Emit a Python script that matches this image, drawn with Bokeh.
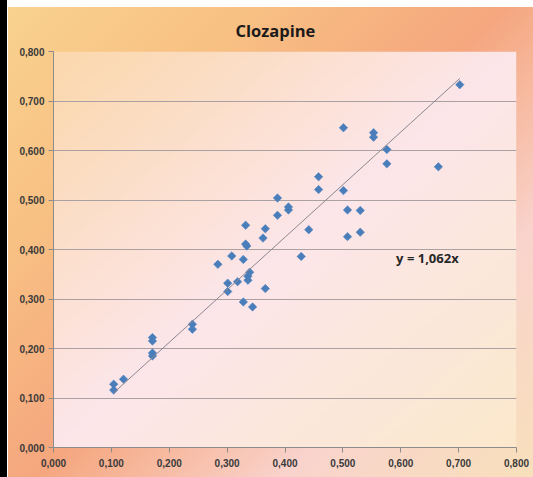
import numpy as np
from bokeh.plotting import figure
from bokeh.models import FixedTicker, Label, Range1d
from bokeh.embed import file_html
from bokeh.resources import INLINE

title_text = "Clozapine"
equation_text = "y = 1,062x"
slope = 1.062

x_vals = [0.104, 0.104, 0.121, 0.171, 0.171, 0.171, 0.171, 0.240, 0.240, 0.284,
          0.301, 0.301, 0.308, 0.318, 0.328, 0.328, 0.332, 0.332, 0.334, 0.339,
          0.336, 0.336, 0.344, 0.362, 0.366, 0.366, 0.387, 0.387, 0.406, 0.406,
          0.428, 0.441, 0.458, 0.458, 0.501, 0.501, 0.508, 0.508, 0.530, 0.530,
          0.553, 0.553, 0.576, 0.576, 0.665, 0.702]
y_vals = [0.128, 0.116, 0.138, 0.222, 0.215, 0.191, 0.185, 0.249, 0.239, 0.370,
          0.332, 0.315, 0.387, 0.335, 0.380, 0.294, 0.449, 0.411, 0.407, 0.354,
          0.346, 0.338, 0.284, 0.423, 0.442, 0.321, 0.504, 0.469, 0.486, 0.480,
          0.386, 0.440, 0.547, 0.521, 0.646, 0.519, 0.480, 0.426, 0.479, 0.435,
          0.636, 0.627, 0.602, 0.573, 0.567, 0.733]

tick_values = [0.0, 0.1, 0.2, 0.3, 0.4, 0.5, 0.6, 0.7, 0.8]
tick_labels = ["0,000", "0,100", "0,200", "0,300", "0,400", "0,500", "0,600", "0,700", "0,800"]

eq_pos = (0.592, 0.383)

p = figure(width=533, height=477, output_backend="svg", toolbar_location=None,
           x_range=Range1d(tick_values[0], tick_values[-1]),
           y_range=Range1d(tick_values[0], tick_values[-1]),
           min_border_left=53, min_border_right=17, min_border_top=51, min_border_bottom=30)

p.border_fill_color = None
p.background_fill_color = None
p.outline_line_color = None
p.styles = {
    "background": (
        "linear-gradient(#000000, #000000) 0 0 / 7px 100% no-repeat, "
        "linear-gradient(#ffffff, #ffffff) 0 0 / 100% 7px no-repeat, "
        "linear-gradient(135deg, #f9d28f 0%, #f8c083 25%, #f5a67e 50%, #f9d3cc 75%, #f8e0bb 100%) "
        "8px 7px / 525px 470px no-repeat"
    ),
}

# plot-area gradient background
n = 120
u = np.linspace(0, 1, n)[None, :]
v = np.linspace(0, 1, n)[:, None]
t = (u + (1 - v)) / 2
stops = [0.0, 0.5, 1.0]
cols = np.array([[0xfb, 0xd8, 0xac], [0xfd, 0xe6, 0xea], [0xfb, 0xe9, 0xcc]], dtype=float)
img = np.zeros((n, n), dtype=np.uint32)
view = img.view(dtype=np.uint8).reshape((n, n, 4))
for c in range(3):
    view[:, :, c] = np.interp(t, stops, cols[:, c]).astype(np.uint8)
view[:, :, 3] = 255
p.image_rgba(image=[img], x=tick_values[0], y=tick_values[0],
             dw=tick_values[-1] - tick_values[0], dh=tick_values[-1] - tick_values[0], level="image")

# title
p.title.text = title_text
p.title.align = "left"
p.title.offset = 182
p.title.standoff = 19
p.title.text_font = "Open Sans"
p.title.text_font_size = "16.5px"
p.title.text_font_style = "bold"
p.title.text_color = "#1a1a1a"

# grid
p.xgrid.visible = False
p.ygrid.ticker = FixedTicker(ticks=tick_values)
p.ygrid.grid_line_color = "#aaa2a2"
p.ygrid.grid_line_width = 1

overrides = {tv: tl for tv, tl in zip(tick_values, tick_labels)}
for ax in (p.xaxis[0], p.yaxis[0]):
    ax.ticker = FixedTicker(ticks=tick_values)
    ax.major_label_overrides = overrides
    ax.axis_line_color = "#8c8c8c"
    ax.major_tick_line_color = "#8c8c8c"
    ax.major_tick_in = 0
    ax.major_tick_out = 5
    ax.minor_tick_line_color = None
    ax.major_label_text_font = "Liberation Sans"
    ax.major_label_text_font_style = "bold"
    ax.major_label_text_font_size = "10px"
    ax.major_label_text_color = "#3a3a3a"
p.xaxis[0].major_label_standoff = 6
p.yaxis[0].major_label_standoff = 4

p.scatter(x_vals, y_vals, marker="square", angle=np.pi / 4, size=6,
          fill_color="#4a7ebb", line_color="#4a7ebb", line_width=0.5)

x_line = [min(x_vals), max(x_vals)]
p.line(x_line, [slope * xv for xv in x_line], line_color="#8a8690", line_width=1)

p.add_layout(Label(x=eq_pos[0], y=eq_pos[1], text=equation_text, text_font="Open Sans",
                   text_font_style="bold", text_font_size="13px", text_color="#262626",
                   text_baseline="middle", text_align="left"))

open("out.html", "w").write(file_html(p, INLINE))
